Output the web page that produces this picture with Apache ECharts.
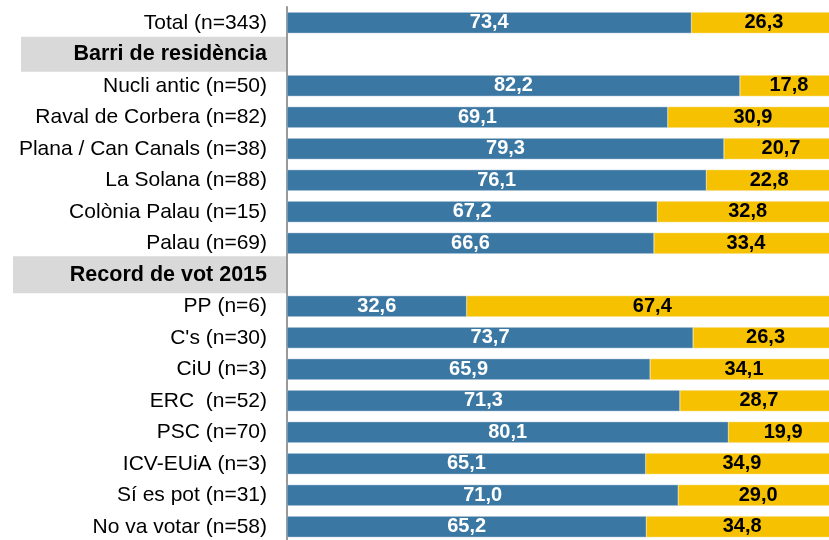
<!DOCTYPE html>
<html>
<head>
<meta charset="utf-8">
<script src="https://cdn.jsdelivr.net/npm/echarts@6/dist/echarts.min.js"></script>
<style>
  body{margin:0;background:#fff}
  #main{width:829px;height:540px}
</style>
</head>
<body>
<div id="main"></div>
<script type="text/javascript">
  // categories from top to bottom, headers have no bars
  var categories = ['Total (n=343)', 'Barri de residència', 'Nucli antic (n=50)', 'Raval de Corbera (n=82)',
    'Plana / Can Canals (n=38)', 'La Solana (n=88)', 'Colònia Palau (n=15)', 'Palau (n=69)',
    'Record de vot 2015', 'PP (n=6)', "C's (n=30)", 'CiU (n=3)', 'ERC  (n=52)', 'PSC (n=70)',
    'ICV-EUiA (n=3)', 'Sí es pot (n=31)', 'No va votar (n=58)'];
  var headers = ['Barri de residència', 'Record de vot 2015'];
  var blueVals = [73.4, null, 82.2, 69.1, 79.3, 76.1, 67.2, 66.6, null, 32.6, 73.7, 65.9, 71.3, 80.1, 65.1, 71.0, 65.2];
  var yellowVals = [26.3, null, 17.8, 30.9, 20.7, 22.8, 32.8, 33.4, null, 67.4, 26.3, 34.1, 28.7, 19.9, 34.9, 29.0, 34.8];

  var FONT = 'Liberation Sans, Arial, sans-serif';

  function fmt(p) {
    return p.value == null ? '' : p.value.toFixed(1).replace('.', ',');
  }

  var myChart = echarts.init(document.getElementById('main'));
  var option = {
    animation: false,
    grid: {left: 287, top: 7, width: 551, height: 535.5, outerBoundsMode: 'none', containLabel: false},
    xAxis: {
      type: 'value', min: 0, max: 100, show: false
    },
    yAxis: {
      type: 'category',
      inverse: true,
      data: categories,
      axisTick: {show: false},
      axisLine: {lineStyle: {color: '#999999', width: 2}},
      axisLabel: {
        margin: 1,
        fontFamily: FONT,
        fontSize: 21,
        color: '#000',
        formatter: function (v) {
          if (v === headers[0]) return '{h1|' + v + '}';
          if (v === headers[1]) return '{h2|' + v + '}';
          return '{n|' + v + '}';
        },
        rich: {
          n: {fontSize: 21, color: '#000', padding: [0, 19, 0, 0], fontFamily: FONT},
          h1: {fontSize: 21.5, fontWeight: 'bold', color: '#000', backgroundColor: '#d9d9d9', align: 'right',
            width: 246, height: 35, lineHeight: 35, padding: [0, 19, 0, 0], fontFamily: FONT},
          h2: {fontSize: 21.5, fontWeight: 'bold', color: '#000', backgroundColor: '#d9d9d9', align: 'right',
            width: 254, height: 37, lineHeight: 37, padding: [0, 19, 0, 0], fontFamily: FONT}
        }
      }
    },
    series: [
      {
        type: 'bar', stack: 'a', data: blueVals, barWidth: 21,
        itemStyle: {color: '#3a77a2', borderColor: '#a9c3d6', borderWidth: 0.5},
        label: {show: true, position: 'inside', color: '#fff', fontWeight: 'bold', fontSize: 20,
          fontFamily: FONT, formatter: fmt}
      },
      {
        type: 'bar', stack: 'a', data: yellowVals, barWidth: 21,
        itemStyle: {color: '#f6c100', borderColor: '#f9dc80', borderWidth: 0.5},
        label: {show: true, position: 'inside', color: '#000', fontWeight: 'bold', fontSize: 20,
          fontFamily: FONT, formatter: fmt}
      }
    ]
  };
  myChart.setOption(option);
</script>
</body>
</html>
